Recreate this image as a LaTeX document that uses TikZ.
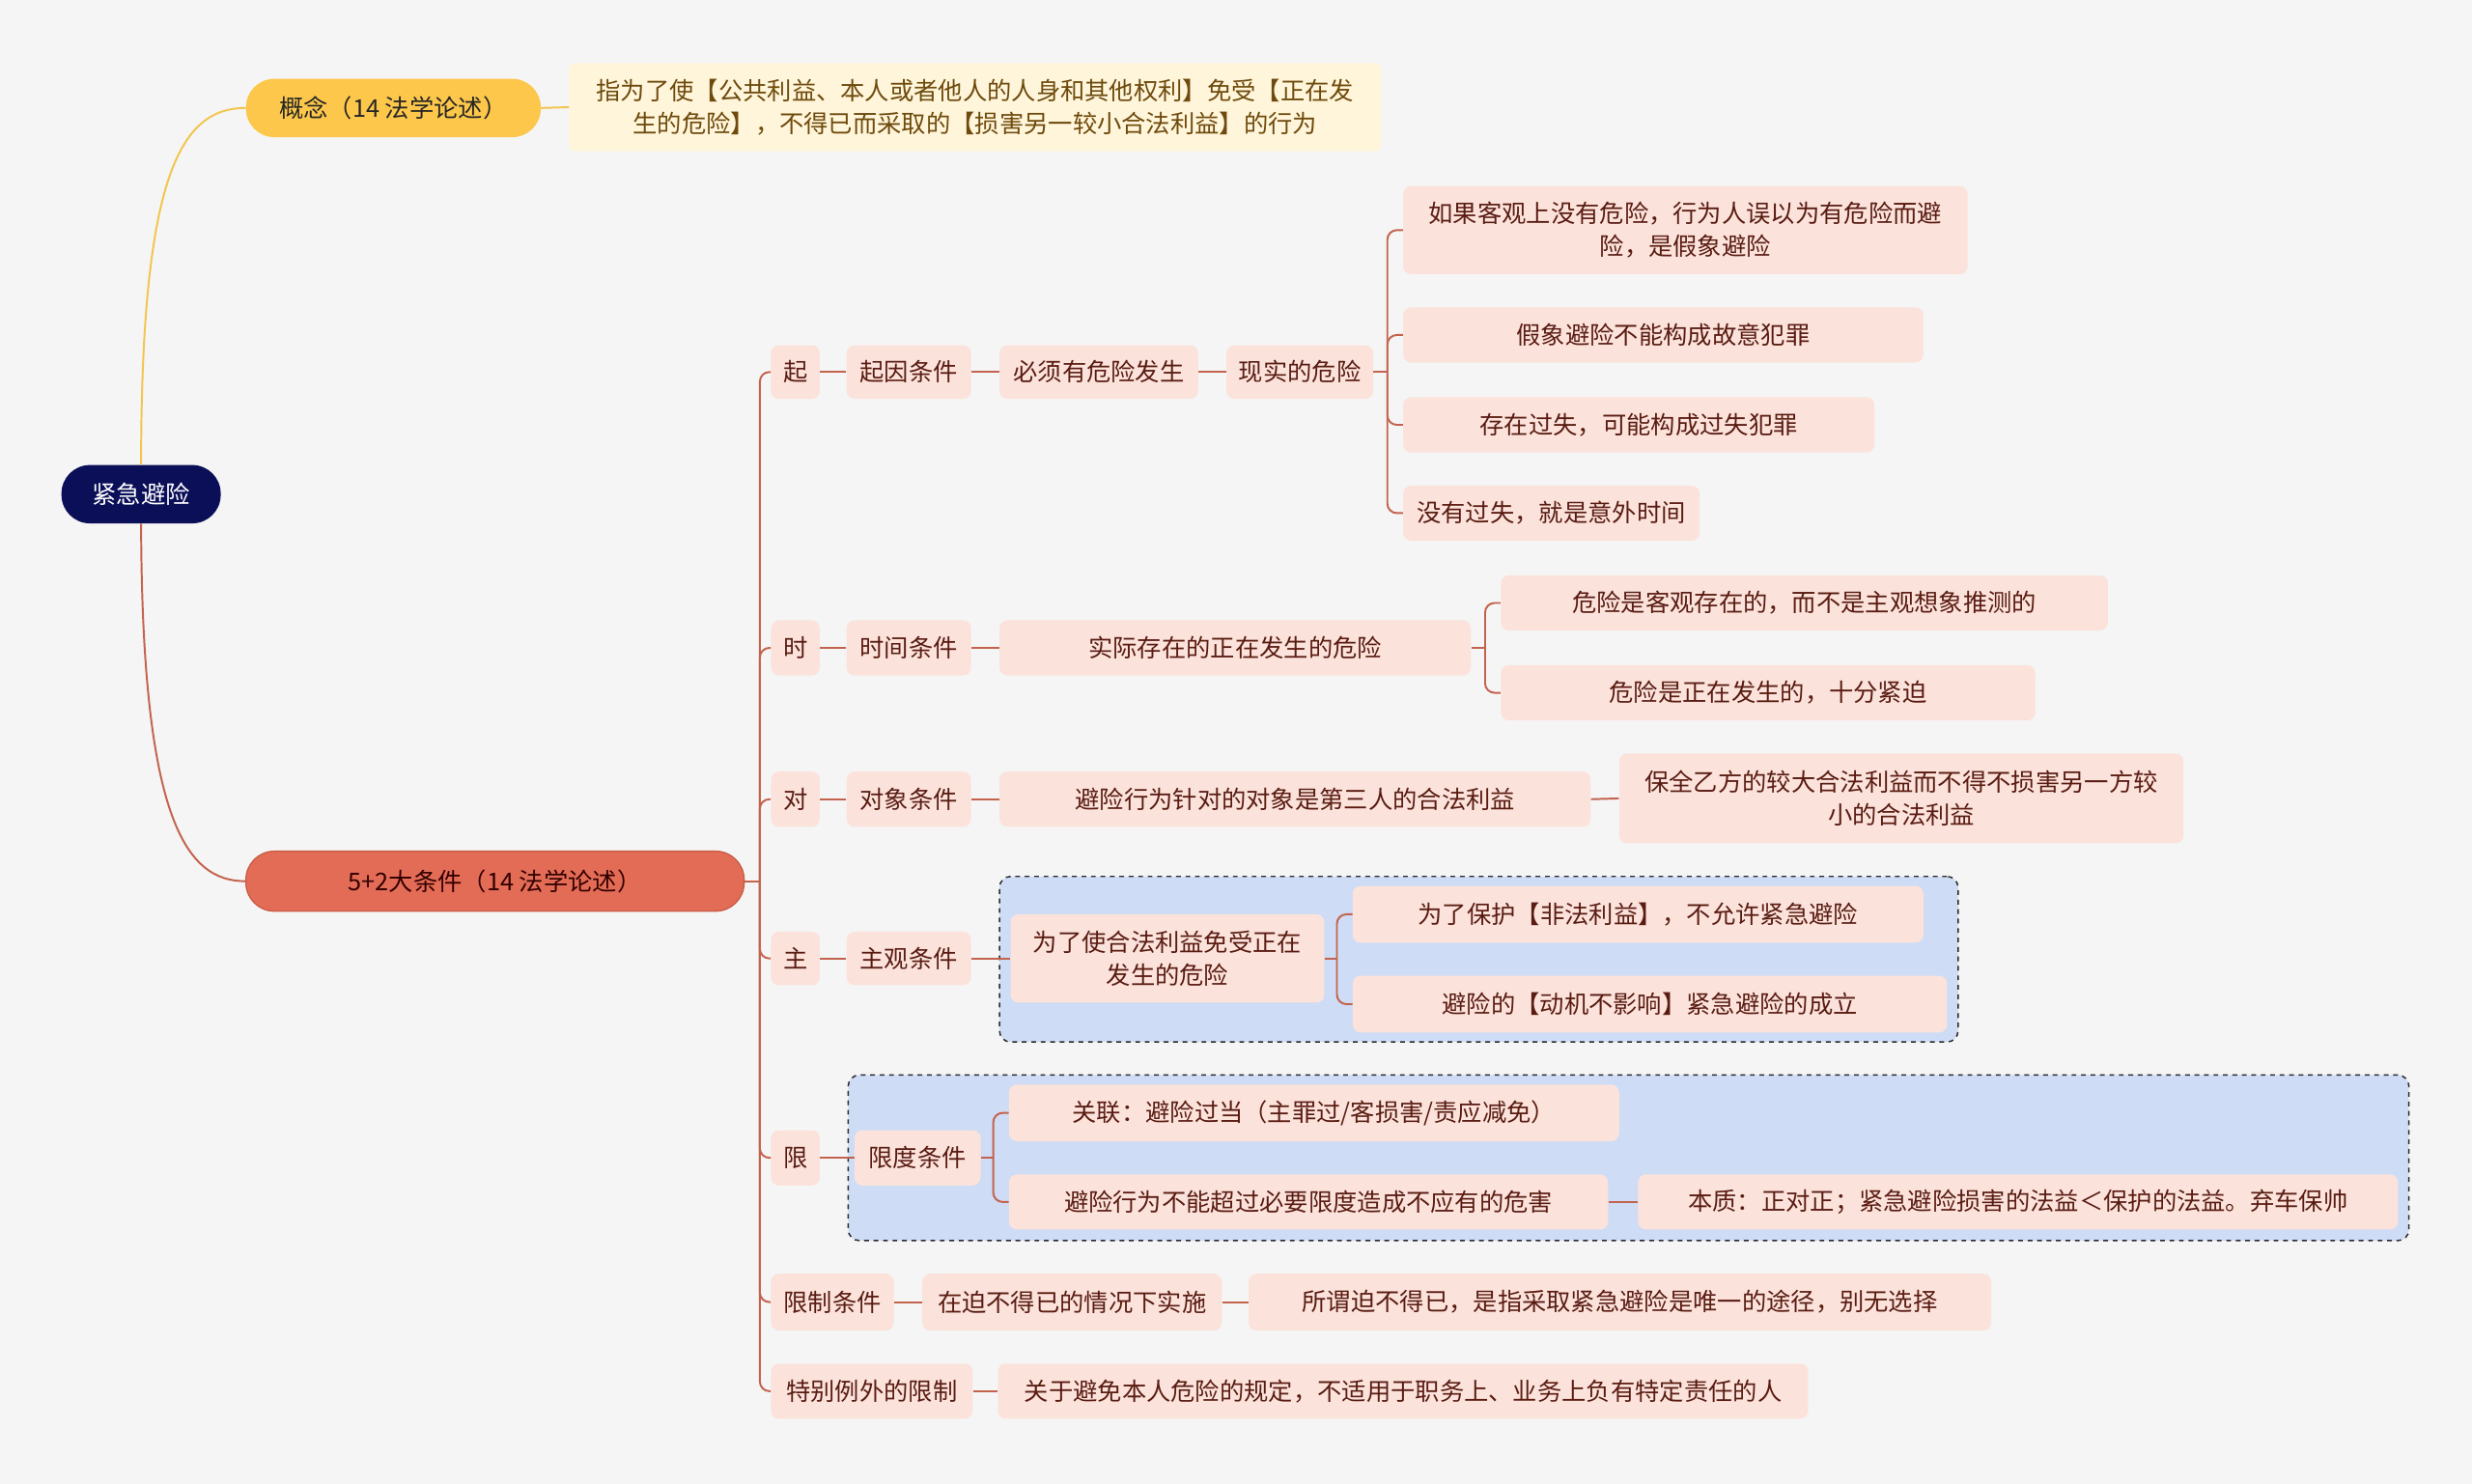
\documentclass[tikz,border=0pt]{standalone}
\usepackage{fontspec}
\setmainfont{Noto Sans CJK SC}
\definecolor{bgc}{HTML}{F5F5F5}
\definecolor{leafc}{HTML}{FBE3DC}
\definecolor{leaft}{HTML}{5A1C12}
\definecolor{linec}{HTML}{C4634D}
\definecolor{rootc}{HTML}{0B0F58}
\definecolor{yelc}{HTML}{FCC74A}
\definecolor{yell}{HTML}{F3C54E}
\definecolor{ctc}{HTML}{FFF5DA}
\definecolor{ctt}{HTML}{6E4A0C}
\definecolor{redc}{HTML}{E36C56}
\definecolor{redb}{HTML}{C95B46}
\definecolor{grpc}{HTML}{CEDCF5}
\definecolor{grpb}{HTML}{2A2A2A}
\newcommand\fsz{\fontsize{15.5}{21}\selectfont}
\tikzset{
  base/.style={inner sep=0pt, align=center, font=\fsz},
  leaf/.style={base, fill=leafc, rounded corners=5pt, text=leaft},
  pill/.style={base, rounded corners=18pt},
  grp/.style={fill=grpc, draw=grpb, dashed, line width=0.9pt, rounded corners=7pt, inner sep=0pt},
  conn/.style={draw=linec, line width=1.2pt},
  yconn/.style={draw=yell, line width=1.2pt},
  brk/.style={conn, rounded corners=6pt}
}
\begin{document}
\begin{tikzpicture}[x=1pt,y=1pt]
\useasboundingbox (0,0) rectangle (1568,-941.4);
\fill[bgc] (0,0) rectangle (1568,-941.4);

% group boxes
\node[grp, minimum width=608, minimum height=105] (g1) at (938,-608.5) {};
\node[grp, minimum width=990, minimum height=105] (g2) at (1033,-734.5) {};

% root and main branches
\node[pill, fill=rootc, text=white, minimum width=101, minimum height=37] (root) at (89.5,-313.5) {紧急避险};
\node[pill, fill=yelc, text=black!85, minimum width=187, minimum height=37] (concept) at (249.5,-68.5) {概念（14 法学论述）};
\node[base, fill=ctc, text=ctt, rounded corners=4pt, minimum width=515, minimum height=56] (ctext) at (618.5,-68) {指为了使【公共利益、本人或者他人的人身和其他权利】免受【正在发\\生的危险】，不得已而采取的【损害另一较小合法利益】的行为};
\node[pill, fill=redc, draw=redb, line width=0.8pt, text=black!80!red, minimum width=316, minimum height=38] (t5) at (314,-559) {5+2大条件（14 法学论述）};

% level 2
\node[leaf, minimum width=31, minimum height=34] (s1) at (504.5,-236) {起};
\node[leaf, minimum width=31, minimum height=35] (s2) at (504.5,-411) {时};
\node[leaf, minimum width=31, minimum height=35] (s3) at (504.5,-507) {对};
\node[leaf, minimum width=31, minimum height=34] (s4) at (504.5,-608) {主};
\node[leaf, minimum width=31, minimum height=35] (s5) at (504.5,-734.5) {限};
\node[leaf, minimum width=78, minimum height=36] (s6) at (528,-826) {限制条件};
\node[leaf, minimum width=128, minimum height=35] (s7) at (553,-882.5) {特别例外的限制};

% 起
\node[leaf, minimum width=79, minimum height=34] (a1) at (576.5,-236) {起因条件};
\node[leaf, minimum width=126, minimum height=34] (a2) at (697,-236) {必须有危险发生};
\node[leaf, minimum width=93, minimum height=34] (a3) at (824.5,-236) {现实的危险};
\node[leaf, minimum width=358, minimum height=56] (a4) at (1069,-146) {如果客观上没有危险，行为人误以为有危险而避\\险，是假象避险};
\node[leaf, minimum width=330, minimum height=35] (a5) at (1055,-212.5) {假象避险不能构成故意犯罪};
\node[leaf, minimum width=299, minimum height=35] (a6) at (1039.5,-269.5) {存在过失，可能构成过失犯罪};
\node[leaf, minimum width=188, minimum height=35] (a7) at (984,-325.5) {没有过失，就是意外时间};

% 时
\node[leaf, minimum width=79, minimum height=35] (b1) at (576.5,-411) {时间条件};
\node[leaf, minimum width=299, minimum height=35] (b2) at (783.5,-411) {实际存在的正在发生的危险};
\node[leaf, minimum width=385, minimum height=35] (b3) at (1144.5,-382.5) {危险是客观存在的，而不是主观想象推测的};
\node[leaf, minimum width=339, minimum height=35] (b4) at (1121.5,-439.5) {危险是正在发生的，十分紧迫};

% 对
\node[leaf, minimum width=79, minimum height=35] (c1) at (576.5,-507) {对象条件};
\node[leaf, minimum width=375, minimum height=35] (c2) at (821.5,-507) {避险行为针对的对象是第三人的合法利益};
\node[leaf, minimum width=358, minimum height=57] (c3) at (1206,-506.5) {保全乙方的较大合法利益而不得不损害另一方较\\小的合法利益};

% 主
\node[leaf, minimum width=79, minimum height=34] (d1) at (576.5,-608) {主观条件};
\node[leaf, minimum width=199, minimum height=56] (d2) at (740.5,-608) {为了使合法利益免受正在\\发生的危险};
\node[leaf, minimum width=362, minimum height=36] (d3) at (1039,-580) {为了保护【非法利益】，不允许紧急避险};
\node[leaf, minimum width=377, minimum height=36] (d4) at (1046.5,-637) {避险的【动机不影响】紧急避险的成立};

% 限
\node[leaf, minimum width=80, minimum height=35] (e1) at (582,-734.5) {限度条件};
\node[leaf, minimum width=387, minimum height=36] (e2) at (833.5,-706) {关联：避险过当（主罪过/客损害/责应减免）};
\node[leaf, minimum width=380, minimum height=35] (e3) at (830,-762.5) {避险行为不能超过必要限度造成不应有的危害};
\node[leaf, minimum width=482, minimum height=35] (e4) at (1280,-762.5) {本质：正对正；紧急避险损害的法益＜保护的法益。弃车保帅};

% 限制条件 / 特别例外
\node[leaf, minimum width=190, minimum height=36] (f1) at (680,-826) {在迫不得已的情况下实施};
\node[leaf, minimum width=471, minimum height=36] (f2) at (1027.5,-826) {所谓迫不得已，是指采取紧急避险是唯一的途径，别无选择};
\node[leaf, minimum width=514, minimum height=35] (h1) at (890,-882.5) {关于避免本人危险的规定，不适用于职务上、业务上负有特定责任的人};

% root connectors
\draw[yconn] (root.north) .. controls (89.5,-110) and (115,-68.5) .. (concept.west);
\draw[yconn] (concept.east) -- (ctext.west);
\draw[conn] (root.south) .. controls (90,-520) and (118,-559) .. (t5.west);

% trunk
\coordinate (tr) at (482,-559);
\draw[conn] (t5.east) -- (tr);
\foreach \n in {s1,s2,s3,s4,s5,s6,s7} {\draw[brk] (tr) |- (\n.west);}

% sibling lines
\draw[conn] (s1.east) -- (a1.west);
\draw[conn] (a1.east) -- (a2.west);
\draw[conn] (a2.east) -- (a3.west);
\draw[conn] (s2.east) -- (b1.west);
\draw[conn] (b1.east) -- (b2.west);
\draw[conn] (s3.east) -- (c1.west);
\draw[conn] (c1.east) -- (c2.west);
\draw[conn] (c2.east) -- (c3.west);
\draw[conn] (s4.east) -- (d1.west);
\draw[conn] (d1.east) -- (d2.west);
\draw[conn] (s5.east) -- (e1.west);
\draw[conn] (e3.east) -- (e4.west);
\draw[conn] (s6.east) -- (f1.west);
\draw[conn] (f1.east) -- (f2.west);
\draw[conn] (s7.east) -- (h1.west);

% brackets
\coordinate (ba) at (880,-236);
\draw[conn] (a3.east) -- (ba);
\foreach \n in {a4,a5,a6,a7} {\draw[brk] (ba) |- (\n.west);}
\coordinate (bb) at (942,-411);
\draw[conn] (b2.east) -- (bb);
\foreach \n in {b3,b4} {\draw[brk] (bb) |- (\n.west);}
\coordinate (bd) at (848,-608);
\draw[conn] (d2.east) -- (bd);
\foreach \n in {d3,d4} {\draw[brk] (bd) |- (\n.west);}
\coordinate (be) at (630,-734.5);
\draw[conn] (e1.east) -- (be);
\foreach \n in {e2,e3} {\draw[brk] (be) |- (\n.west);}
\end{tikzpicture}
\end{document}
